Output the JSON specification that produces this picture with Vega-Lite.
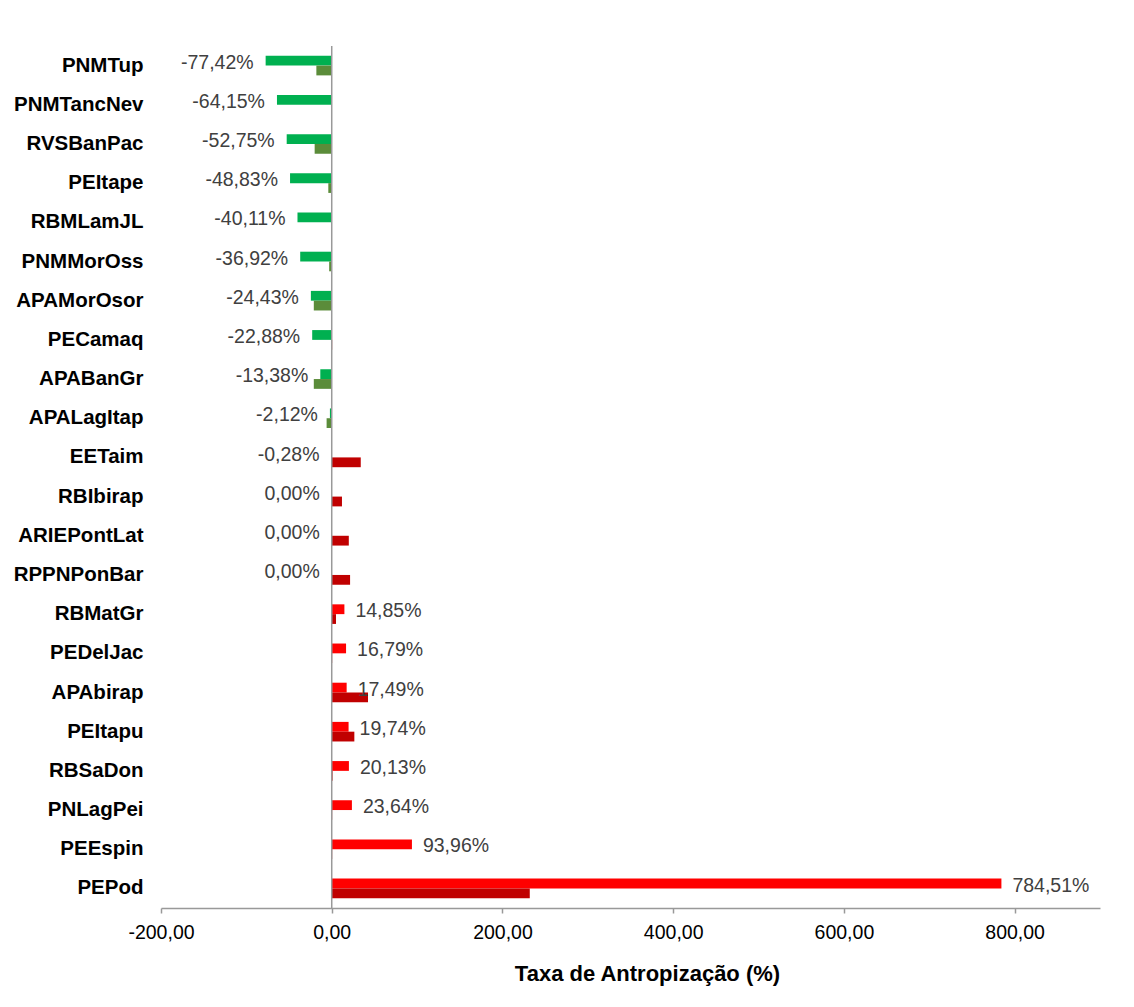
{
  "$schema": "https://vega.github.io/schema/vega-lite/v6.json",
  "width": 939,
  "height": 862,
  "autosize": {"type": "none"},
  "padding": {"left": 161, "top": 46, "right": 34, "bottom": 99},
  "background": "white",
  "config": {
    "locale": {"number": {"decimal": ",", "thousands": ".", "grouping": [3], "currency": ["R$", ""], "minus": "-"}},
    "view": {"stroke": null},
    "font": "Liberation Sans"
  },
  "data": {
    "values": [
      {"area": "PNMTup", "t1": -77.42, "t2": -18},
      {"area": "PNMTancNev", "t1": -64.15, "t2": 0},
      {"area": "RVSBanPac", "t1": -52.75, "t2": -20},
      {"area": "PEItape", "t1": -48.83, "t2": -4},
      {"area": "RBMLamJL", "t1": -40.11, "t2": 0},
      {"area": "PNMMorOss", "t1": -36.92, "t2": -3},
      {"area": "APAMorOsor", "t1": -24.43, "t2": -21},
      {"area": "PECamaq", "t1": -22.88, "t2": 0.5},
      {"area": "APABanGr", "t1": -13.38, "t2": -21},
      {"area": "APALagItap", "t1": -2.12, "t2": -6},
      {"area": "EETaim", "t1": -0.28, "t2": 34},
      {"area": "RBIbirap", "t1": 0, "t2": 12},
      {"area": "ARIEPontLat", "t1": 0, "t2": 20},
      {"area": "RPPNPonBar", "t1": 0, "t2": 21.5},
      {"area": "RBMatGr", "t1": 14.85, "t2": 5},
      {"area": "PEDelJac", "t1": 16.79, "t2": 0.5},
      {"area": "APAbirap", "t1": 17.49, "t2": 42.5},
      {"area": "PEItapu", "t1": 19.74, "t2": 26.5},
      {"area": "RBSaDon", "t1": 20.13, "t2": 1},
      {"area": "PNLagPei", "t1": 23.64, "t2": 0.5},
      {"area": "PEEspin", "t1": 93.96, "t2": 0.5},
      {"area": "PEPod", "t1": 784.51, "t2": 232}
    ]
  },
  "transform": [
    {"fold": ["t1", "t2"], "as": ["serie", "v"]},
    {"calculate": "datum.serie + (datum.v < 0 ? 'n' : 'p')", "as": "cls"},
    {"calculate": "format(datum.v, '.2f') + '%'", "as": "lbl"}
  ],
  "layer": [
    {
      "mark": {"type": "bar"},
      "encoding": {
        "y": {
          "field": "area", "type": "nominal", "sort": null,
          "scale": {"paddingInner": 0.5, "paddingOuter": 0.25},
          "axis": {"title": null, "domain": false, "ticks": false, "labelPadding": 18, "labelFontSize": 20.5, "labelFontWeight": "bold", "labelColor": "#000000"}
        },
        "yOffset": {"field": "serie", "type": "nominal", "sort": ["t1", "t2"]},
        "x": {
          "field": "v", "type": "quantitative",
          "scale": {"domain": [-200, 900], "nice": false},
          "axis": {
            "values": [-200, 0, 200, 400, 600, 800], "format": ".2f", "grid": false, "labelFlush": false,
            "labelFontSize": 19.5, "labelColor": "#000000", "domainColor": "#999999", "domainWidth": 1.5, "tickColor": "#999999", "tickWidth": 1.5, "tickSize": 5,
            "labelPadding": 10,
            "title": "Taxa de Antropização (%)", "titleFontSize": 22, "titleFontWeight": "bold", "titleColor": "#000000", "titlePadding": 22, "titleX": 486, "titleAlign": "center"
          }
        },
        "color": {
          "field": "cls", "type": "nominal",
          "scale": {"domain": ["t1n", "t2n", "t1p", "t2p"], "range": ["#00B050", "#5B8C3A", "#FF0000", "#C00000"]},
          "legend": null
        }
      }
    },
    {
      "data": {"values": [{}]},
      "mark": {"type": "rule", "color": "#999999", "strokeWidth": 1.5},
      "encoding": {"x": {"datum": 0}}
    },
    {
      "transform": [{"filter": "datum.serie === 't1' && datum.v <= 0"}],
      "mark": {"type": "text", "align": "right", "baseline": "middle", "dx": -12, "dy": 2, "fontSize": 19.5, "color": "#404040"},
      "encoding": {
        "y": {"field": "area", "type": "nominal", "sort": null},
        "yOffset": {"field": "serie", "type": "nominal", "sort": ["t1", "t2"]},
        "x": {"field": "v", "type": "quantitative"},
        "text": {"field": "lbl"}
      }
    },
    {
      "transform": [{"filter": "datum.serie === 't1' && datum.v > 0"}],
      "mark": {"type": "text", "align": "left", "baseline": "middle", "dx": 11, "dy": 2, "fontSize": 19.5, "color": "#404040"},
      "encoding": {
        "y": {"field": "area", "type": "nominal", "sort": null},
        "yOffset": {"field": "serie", "type": "nominal", "sort": ["t1", "t2"]},
        "x": {"field": "v", "type": "quantitative"},
        "text": {"field": "lbl"}
      }
    }
  ]
}
